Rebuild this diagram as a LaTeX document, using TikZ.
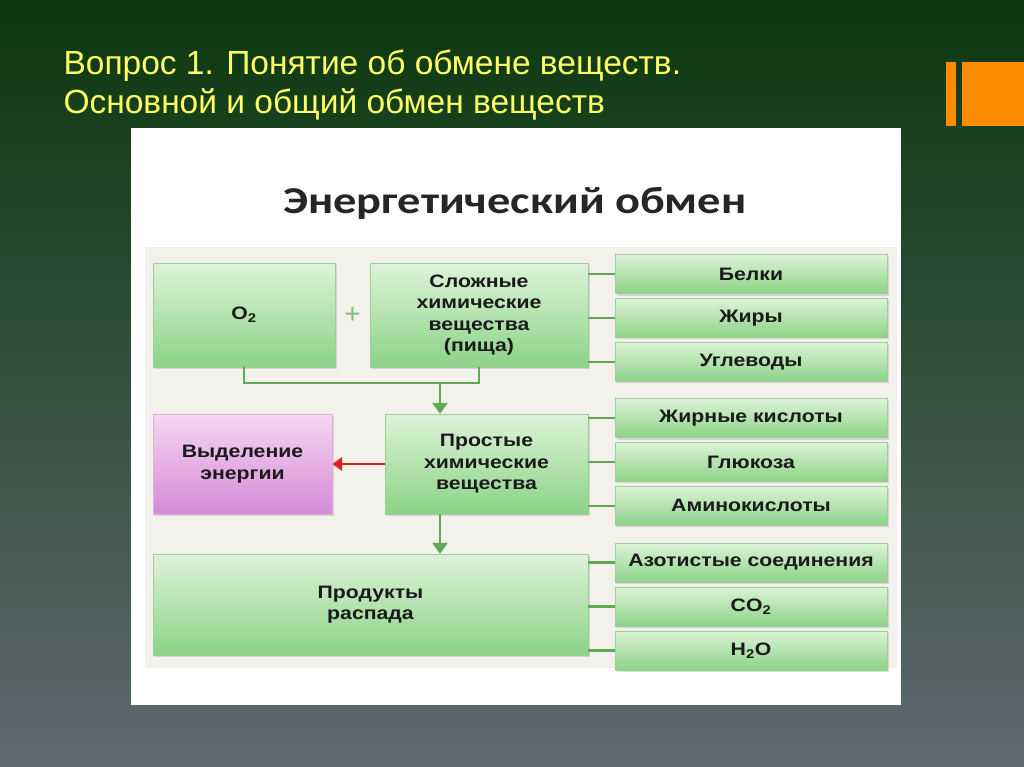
\documentclass[tikz,border=0pt]{standalone}
\usepackage{fontspec}
\setmainfont{Liberation Sans}
\newfontfamily\boxfamily[FakeStretch=1.18]{Liberation Sans}
\newfontfamily\headfamily[FakeStretch=1.22]{Carlito}
\usetikzlibrary{positioning,arrows.meta,shadows}

\definecolor{bgtop}{HTML}{0A380D}
\definecolor{bgmid}{HTML}{283138}
\definecolor{bgbot}{HTML}{606970}
\definecolor{titleyellow}{HTML}{FFFF66}
\definecolor{orangebar}{HTML}{FF8C00}
\definecolor{panelbg}{HTML}{F3F1EC}
\definecolor{boxtop}{HTML}{DDF3D8}
\definecolor{boxbot}{HTML}{8CD386}
\definecolor{boxedge}{HTML}{9FCF98}
\definecolor{pinktop}{HTML}{F6D6F2}
\definecolor{pinkbot}{HTML}{D58AD6}
\definecolor{linkgreen}{HTML}{5FAA55}
\definecolor{arrowred}{HTML}{E0201E}
\definecolor{boxtext}{HTML}{1A1A1A}

\tikzset{
  greenbox/.style={draw=boxedge, top color=boxtop, bottom color=boxbot,
    align=center, inner sep=0pt, text=boxtext,
    font=\boxfamily\bfseries\fontsize{18}{21.5}\selectfont,
    drop shadow={opacity=0.25, shadow xshift=1.5pt, shadow yshift=-2pt}},
  pinkbox/.style={greenbox, draw=pinkbot!70, top color=pinktop, bottom color=pinkbot},
  sidebox/.style={greenbox, minimum width=272pt, minimum height=39pt},
  link/.style={draw=linkgreen, line width=2.5pt},
  greenarrow/.style={link, -{Triangle[width=15pt,length=11pt]}, draw=linkgreen, fill=linkgreen},
  redarrow/.style={draw=arrowred, line width=2.5pt, -{Triangle[width=13pt,length=10pt]}}
}

\begin{document}
\begin{tikzpicture}[x=1pt,y=-1pt]
    \useasboundingbox (0,0) rectangle (1024,767);
    % slide background
    \shade[top color=bgtop, middle color=bgmid, bottom color=bgbot] (0,0) rectangle (1024,767);
    \fill[orangebar] (946,62) rectangle (956,126);
    \fill[orangebar] (962,62) rectangle (1024,126);
    \node[anchor=west, text=titleyellow, font=\fontsize{33.5}{38}\selectfont] (q1) at (60,66) {Вопрос 1. Понятие об обмене веществ.};
    \node[anchor=west, text=titleyellow, font=\fontsize{33.5}{38}\selectfont] (q2) at (60,104) {Основной и общий обмен веществ};

    % picture panel
    \fill[white] (131,128) rectangle (901,705);
    \node[font=\headfamily\bfseries\fontsize{38}{44}\selectfont, text=black!85] (head) at (515,203) {Энергетический обмен};
    \fill[panelbg] (145,247) rectangle (897,668);

    % O2 + food
    \node[greenbox, minimum width=182pt, minimum height=104pt] (o2) at (244,315) {O\textsubscript{2}};
    \node[greenbox, minimum width=218pt, minimum height=104pt] (food) at (479,315) {Сложные\\химические\\вещества\\(пища)};
    \path (o2.east) -- (food.west) node[midway, text=linkgreen!80, font=\fontsize{28}{28}\selectfont] (plus) {+};
    \node[sidebox] (belki) at (751,274) {Белки};
    \node[sidebox, below=4.5pt of belki] (zhiry) {Жиры};
    \node[sidebox, below=4.5pt of zhiry] (uglevody) {Углеводы};

    % simple substances
    \node[greenbox, minimum width=203pt, minimum height=100pt] (simple) at (486.5,464) {Простые\\химические\\вещества};
    \node[pinkbox, minimum width=179pt, minimum height=100pt] (energy) at (242.5,464) {Выделение\\энергии};
    \node[sidebox] (fatacids) at (751,418) {Жирные кислоты};
    \node[sidebox, below=4.5pt of fatacids] (glucose) {Глюкоза};
    \node[sidebox, below=4.5pt of glucose] (amino) {Аминокислоты};

    % decay products
    \node[greenbox, minimum width=435pt, minimum height=101pt] (decay) at (370.5,604.5) {Продукты\\распада};
    \node[sidebox] (azot) at (751,562.5) {Азотистые соединения};
    \node[sidebox, below=4.5pt of azot] (co2) {CO\textsubscript{2}};
    \node[sidebox, below=4.5pt of co2] (h2o) {H\textsubscript{2}O};

    % connectors
    \coordinate (join) at (440,383);
    \draw[link] (o2.south) |- (join) -| (food.south);
    \draw[greenarrow] (join) -- (join |- simple.north);
    \draw[greenarrow] (simple.south -| join) -- (decay.north -| join);
    \draw[redarrow] (simple.west) -- (energy.east);
    \foreach \n in {belki,zhiry,uglevody}
      \draw[link] (food.east |- \n.west) -- (\n.west);
    \foreach \n in {fatacids,glucose,amino}
      \draw[link] (simple.east |- \n.west) -- (\n.west);
    \foreach \n in {azot,co2,h2o}
      \draw[link] (decay.east |- \n.west) -- (\n.west);
\end{tikzpicture}
\end{document}
